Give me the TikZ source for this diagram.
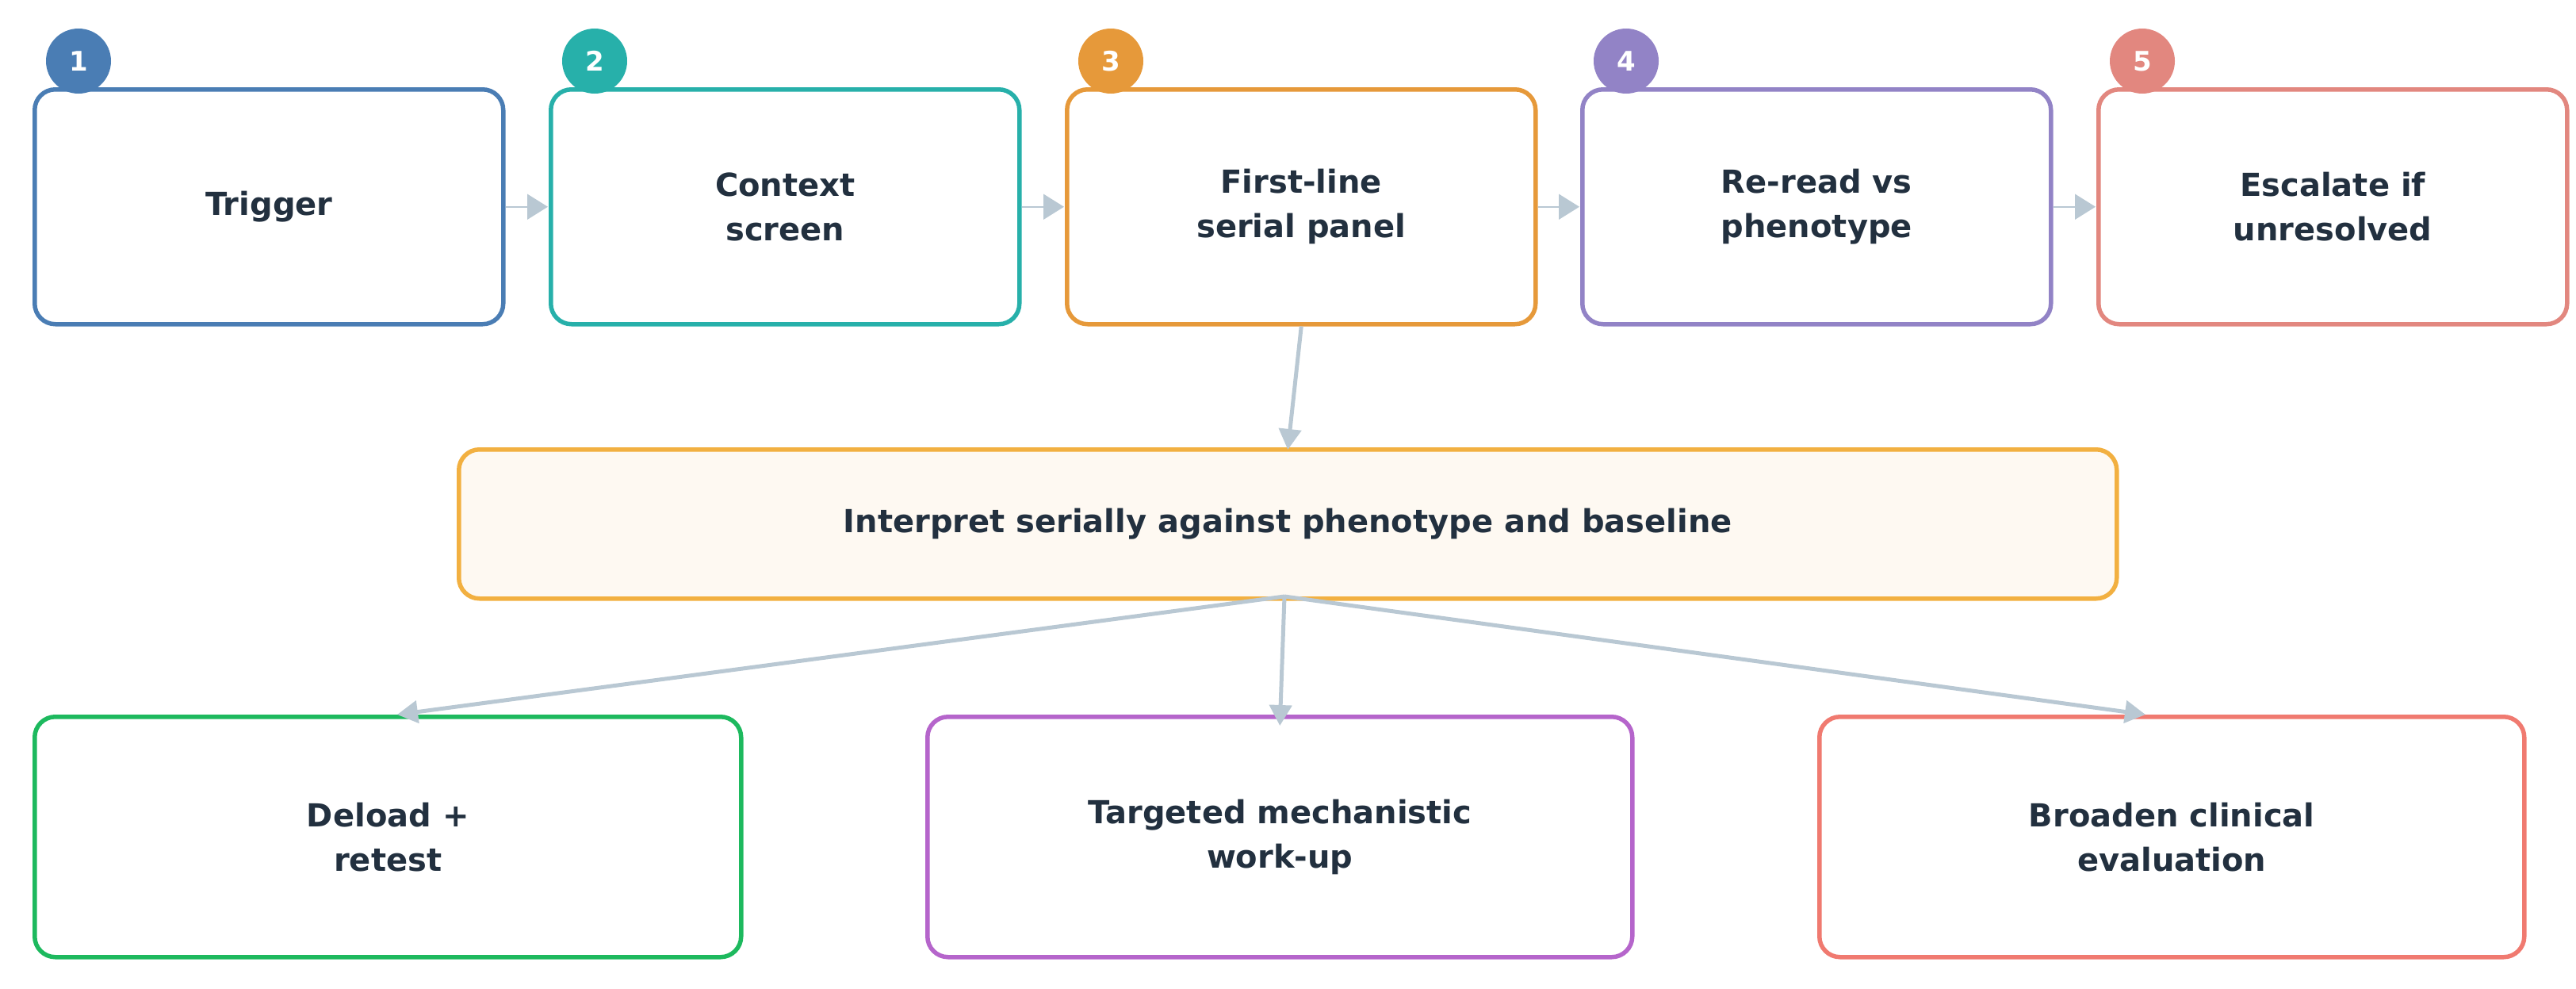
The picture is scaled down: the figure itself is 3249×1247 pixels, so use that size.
\documentclass[tikz,border=0pt]{standalone}
\usepackage{fontspec}
\setmainfont{DejaVu Sans}
\usetikzlibrary{arrows.meta}
\definecolor{txt}{HTML}{22303F}
\definecolor{arr}{HTML}{B9C8D3}
\definecolor{c1}{HTML}{4A7DB4}
\definecolor{c2}{HTML}{27B0AA}
\definecolor{c3}{HTML}{E6993A}
\definecolor{c4}{HTML}{9283C6}
\definecolor{c5}{HTML}{E2877F}
\definecolor{cm}{HTML}{F2B041}
\definecolor{fm}{HTML}{FEF9F2}
\definecolor{g1}{HTML}{1DB95E}
\definecolor{g2}{HTML}{B565CB}
\definecolor{g3}{HTML}{F07A70}
\begin{document}
\begin{tikzpicture}[x=1pt,y=-1pt,
 box/.style={draw=#1,line width=5.5pt,rounded corners=26pt,fill=white,inner sep=0,align=center,
   font=\fontsize{40}{56}\selectfont\bfseries,text=txt},
 badge/.style={circle,fill=#1,minimum size=82pt,inner sep=0,text=white,font=\fontsize{34}{34}\selectfont\bfseries},
 conn/.style={draw=arr,line width=5pt,-{Triangle[length=26pt,width=28pt]}},
 gap/.style={draw=arr,line width=0pt,-{Triangle[length=26pt,width=30pt]}}]
\useasboundingbox (0,0) rectangle (3249,1247);
\foreach \i/\x/\t/\c in {1/41/Trigger/c1,2/692/Context\\screen/c2,3/1343/First-line\\serial panel/c3,4/1993/Re-read vs\\phenotype/c4,5/2644/Escalate if\\unresolved/c5}{
 \node[box=\c,minimum width=591pt,minimum height=296pt,anchor=north west] (t\i) at (\x,110) {\t};
 \node[badge=\c] (b\i) at (\x+58,77) {\i};
}
\foreach \a/\b in {1/2,2/3,3/4,4/5}{
 \draw[arr,line width=2pt,-{Triangle[length=26pt,width=32pt]}] (t\a.east) ++(0,0) -- ([xshift=-1pt]t\b.west);
}
\node[box=cm,fill=fm,minimum width=2091pt,minimum height=188pt,anchor=north west] (m) at (576,564) {Interpret serially against phenotype and baseline};
\draw[conn] (t3.south) -- ([yshift=-3pt]m.north);
\node[box=g1,minimum width=891pt,minimum height=303pt,anchor=north west] (d1) at (41,901) {Deload +\\retest};
\node[box=g2,minimum width=889pt,minimum height=303pt,anchor=north west] (d2) at (1167,901) {Targeted mechanistic\\work-up};
\node[box=g3,minimum width=889pt,minimum height=303pt,anchor=north west] (d3) at (2292,901) {Broaden clinical\\evaluation};
\coordinate (s) at (1620,752);
\coordinate (e1) at (501,901);
\coordinate (e3) at (2706,901);
\draw[conn] (s) -- (e1);
\draw[conn] (s) -- ([yshift=-14pt]d2.north);
\draw[conn] (s) -- (e3);
\end{tikzpicture}
\end{document}
